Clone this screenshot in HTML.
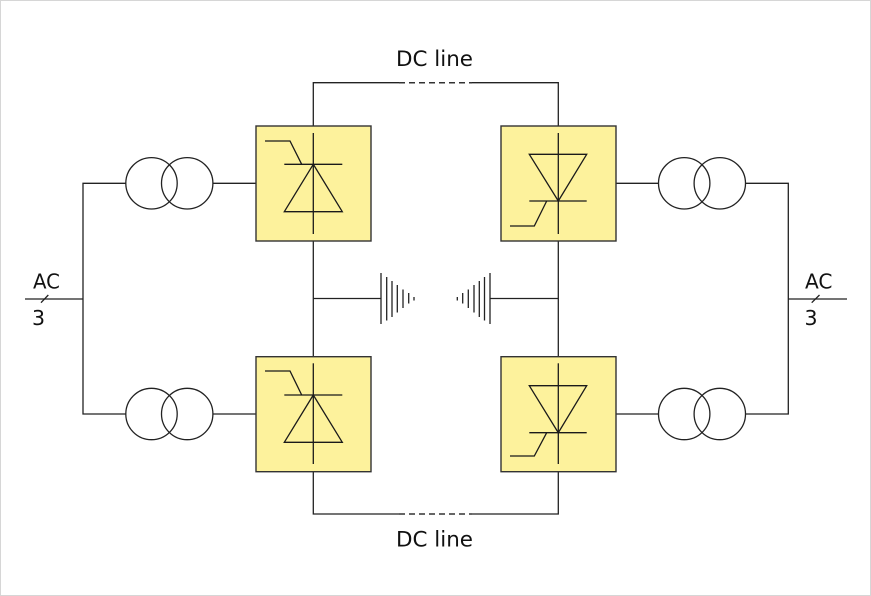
<!DOCTYPE html>
<html>
<head>
<meta charset="utf-8">
<style>
  html, body { margin: 0; padding: 0; background: #ffffff; }
  body { width: 871px; height: 596px; overflow: hidden; }
  svg { display: block; }
  text { font-family: "DejaVu Sans", "Liberation Sans", sans-serif; fill: #111; }
</style>
</head>
<body>
<svg width="871" height="596" viewBox="0 0 871 596" xmlns="http://www.w3.org/2000/svg">
  <rect x="0.5" y="0.5" width="870" height="595" fill="#ffffff" stroke="#d6d6d6" stroke-width="1"/>

  <g stroke="#222" stroke-width="1.3" fill="none">
    <!-- DC line top -->
    <polyline points="313.3,126 313.3,82.7 399,82.7"/>
    <polyline points="472,82.7 558.3,82.7 558.3,126"/>
    <line x1="399" y1="82.7" x2="472" y2="82.7" stroke-dasharray="6,4" stroke="#333" stroke-width="1.5"/>
    <!-- DC line bottom -->
    <polyline points="313.3,471.7 313.3,514 399,514"/>
    <polyline points="472,514 558.3,514 558.3,471.7"/>
    <line x1="399" y1="514" x2="472" y2="514" stroke-dasharray="6,4" stroke="#333" stroke-width="1.5"/>

    <!-- middle verticals -->
    <line x1="313.3" y1="241" x2="313.3" y2="357"/>
    <line x1="558.3" y1="241" x2="558.3" y2="357"/>
    <!-- capacitor leads -->
    <line x1="313.3" y1="298.5" x2="381" y2="298.5"/>
    <line x1="490" y1="298.5" x2="558.3" y2="298.5"/>
  </g>

  <!-- capacitor plates left -->
  <g stroke="#222" stroke-width="1.3">
    <line x1="381" y1="273" x2="381" y2="324"/>
    <line x1="386.7" y1="277" x2="386.7" y2="320.5"/>
    <line x1="392" y1="281" x2="392" y2="317"/>
    <line x1="397.3" y1="285" x2="397.3" y2="312.5"/>
    <line x1="403" y1="289.5" x2="403" y2="308"/>
    <line x1="408.7" y1="293" x2="408.7" y2="303.5"/>
    <line x1="414" y1="297" x2="414" y2="300.5"/>
    <!-- right -->
    <line x1="490" y1="273" x2="490" y2="324"/>
    <line x1="484.5" y1="277" x2="484.5" y2="320.5"/>
    <line x1="479.3" y1="281" x2="479.3" y2="317"/>
    <line x1="474" y1="285" x2="474" y2="312.5"/>
    <line x1="468.3" y1="289.5" x2="468.3" y2="308"/>
    <line x1="462.7" y1="293" x2="462.7" y2="303.5"/>
    <line x1="457.3" y1="297" x2="457.3" y2="300.5"/>
  </g>

  <!-- Left AC bus -->
  <g stroke="#222" stroke-width="1.3" fill="none">
    <polyline points="126,183.3 83,183.3 83,414 126,414"/>
    <line x1="25" y1="299" x2="83" y2="299"/>
    <line x1="41" y1="302.7" x2="48.3" y2="295"/>
    <line x1="212.7" y1="183.3" x2="256" y2="183.3"/>
    <line x1="212.7" y1="414" x2="256" y2="414"/>
    <!-- Left transformers -->
    <circle cx="151.5" cy="183.3" r="25.7"/>
    <circle cx="187.2" cy="183.3" r="25.7"/>
    <circle cx="151.5" cy="414" r="25.7"/>
    <circle cx="187.2" cy="414" r="25.7"/>
  </g>

  <!-- Right AC bus -->
  <g stroke="#222" stroke-width="1.3" fill="none">
    <polyline points="745.7,183.3 788.3,183.3 788.3,414 745.7,414"/>
    <line x1="788.3" y1="299" x2="847" y2="299"/>
    <line x1="811.7" y1="302.7" x2="819.5" y2="295"/>
    <line x1="616" y1="183.3" x2="658.3" y2="183.3"/>
    <line x1="616" y1="414" x2="658.3" y2="414"/>
    <circle cx="684.2" cy="183.3" r="25.7"/>
    <circle cx="719.8" cy="183.3" r="25.7"/>
    <circle cx="684.2" cy="414" r="25.7"/>
    <circle cx="719.8" cy="414" r="25.7"/>
  </g>

  <!-- Boxes -->
  <g fill="#fdf29c" stroke="#333" stroke-width="1.4">
    <rect x="256" y="126" width="115" height="115"/>
    <rect x="501" y="126" width="115" height="115"/>
    <rect x="256" y="356.7" width="115" height="115"/>
    <rect x="501" y="356.7" width="115" height="115"/>
  </g>

  <!-- Thyristor top-left -->
  <g stroke="#1a1a1a" stroke-width="1.3" fill="none" stroke-linejoin="miter">
    <line x1="313.3" y1="133" x2="313.3" y2="234"/>
    <line x1="284.3" y1="164.3" x2="342.3" y2="164.3"/>
    <polygon points="313.3,164.3 284.3,211.7 342.3,211.7"/>
    <polyline points="265,141 290,141 301.7,164.3"/>
  </g>
  <!-- Thyristor bottom-left -->
  <g stroke="#1a1a1a" stroke-width="1.3" fill="none">
    <line x1="313.3" y1="363.3" x2="313.3" y2="464"/>
    <line x1="284.3" y1="395" x2="342.3" y2="395"/>
    <polygon points="313.3,395 284.3,442.3 342.3,442.3"/>
    <polyline points="265,371 290,371 301.7,395"/>
  </g>
  <!-- Thyristor top-right -->
  <g stroke="#1a1a1a" stroke-width="1.3" fill="none">
    <line x1="558.3" y1="133" x2="558.3" y2="234"/>
    <polygon points="529.3,154.3 586.7,154.3 558.3,201"/>
    <line x1="529.3" y1="201" x2="586.7" y2="201"/>
    <polyline points="510,226 534.3,226 546.7,201"/>
  </g>
  <!-- Thyristor bottom-right -->
  <g stroke="#1a1a1a" stroke-width="1.3" fill="none">
    <line x1="558.3" y1="363.3" x2="558.3" y2="464"/>
    <polygon points="529.3,385.7 586.7,385.7 558.3,432.7"/>
    <line x1="529.3" y1="432.7" x2="586.7" y2="432.7"/>
    <polyline points="510,456 534.3,456 546.7,432.7"/>
  </g>

  <!-- Labels -->
  <text x="396" y="66" font-size="21.5" textLength="77" lengthAdjust="spacingAndGlyphs">DC line</text>
  <text x="396" y="546.7" font-size="21.5" textLength="77" lengthAdjust="spacingAndGlyphs">DC line</text>
  <text x="33" y="288.3" font-size="20.5" textLength="27" lengthAdjust="spacingAndGlyphs">AC</text>
  <text x="32" y="325" font-size="20.5">3</text>
  <text x="805" y="288.3" font-size="20.5" textLength="27.5" lengthAdjust="spacingAndGlyphs">AC</text>
  <text x="804.5" y="325" font-size="20.5">3</text>
</svg>
</body>
</html>
